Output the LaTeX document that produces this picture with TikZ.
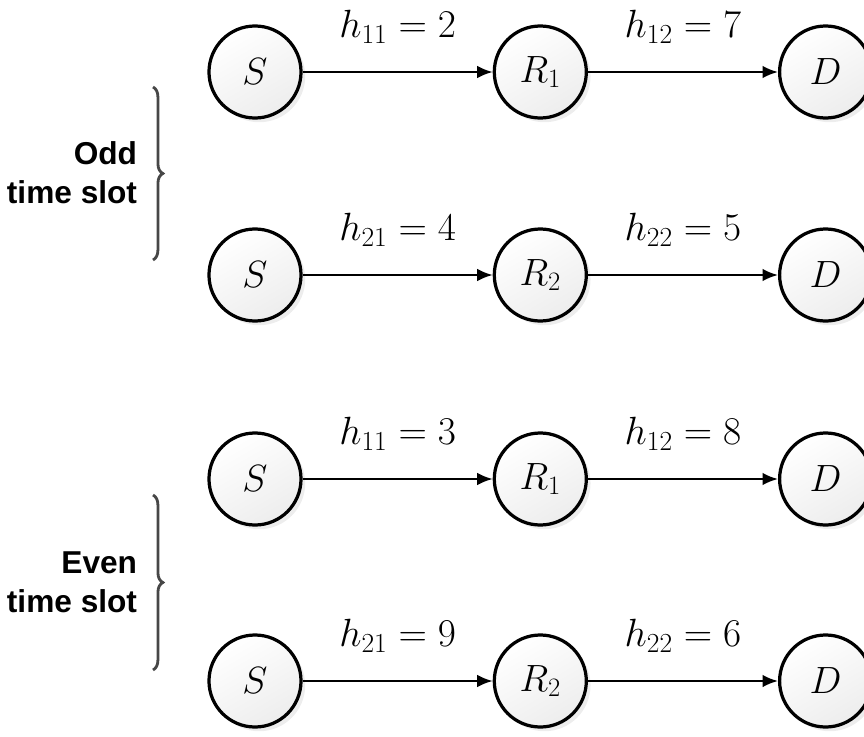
\RequirePackage{fix-cm}
\documentclass[tikz,border=0pt]{standalone}
\usepackage{amsmath}
\usepackage{fontspec}
\setsansfont{Liberation Sans}
\usetikzlibrary{arrows.meta,positioning,shadows,decorations.pathreplacing}

\begin{document}
\begin{tikzpicture}[
    x=0.025cm, y=-0.025cm,
    station/.style={draw, circle, line width=2.3pt, minimum size=2.3cm, inner sep=0pt, top color=white, bottom color=gray!14, shading angle=30, drop shadow={shadow xshift=3pt, shadow yshift=-3pt, fill=black, opacity=0.07}, font=\fontsize{27}{32}\selectfont},
    link/.style={-{Latex[length=11pt,width=9pt]}, line width=1.6pt},
    gain/.style={midway, above=16pt, font=\fontsize{28}{34}\selectfont},
    slot/.style={decorate, decoration={brace, amplitude=7pt}, line width=2pt, draw=black!72},
    slotname/.style={anchor=east, align=right, font=\fontsize{22.5}{28}\selectfont\sffamily\bfseries},
    node distance=4.75cm
]
\useasboundingbox (0,0) rectangle (864,737);

% odd time slot
\node[station] (s1) at (255,72) {$S$};
\node[station, right=of s1] (r1) {$R_1$};
\node[station, right=of r1] (d1) {$D$};
\draw[link] (s1) -- (r1) node[gain] {$h_{11} = 2$};
\draw[link] (r1) -- (d1) node[gain] {$h_{12} = 7$};

\node[station] (s2) at (255,275) {$S$};
\node[station, right=of s2] (r2) {$R_2$};
\node[station, right=of r2] (d2) {$D$};
\draw[link] (s2) -- (r2) node[gain] {$h_{21} = 4$};
\draw[link] (r2) -- (d2) node[gain] {$h_{22} = 5$};

% even time slot
\node[station] (s3) at (255,479) {$S$};
\node[station, right=of s3] (r3) {$R_1$};
\node[station, right=of r3] (d3) {$D$};
\draw[link] (s3) -- (r3) node[gain] {$h_{11} = 3$};
\draw[link] (r3) -- (d3) node[gain] {$h_{12} = 8$};

\node[station] (s4) at (255,681) {$S$};
\node[station, right=of s4] (r4) {$R_2$};
\node[station, right=of r4] (d4) {$D$};
\draw[link] (s4) -- (r4) node[gain] {$h_{21} = 9$};
\draw[link] (r4) -- (d4) node[gain] {$h_{22} = 6$};

% braces
\coordinate (oddtop) at (153,87);
\coordinate (oddbot) at (153,260);
\draw[slot] (oddtop) -- (oddbot);
\node[slotname] (odd) at (142,173) {Odd\\time slot};

\coordinate (eventop) at (153,495);
\coordinate (evenbot) at (153,670);
\draw[slot] (eventop) -- (evenbot);
\node[slotname] (even) at (142,582) {Even\\time slot};

\end{tikzpicture}
\end{document}
